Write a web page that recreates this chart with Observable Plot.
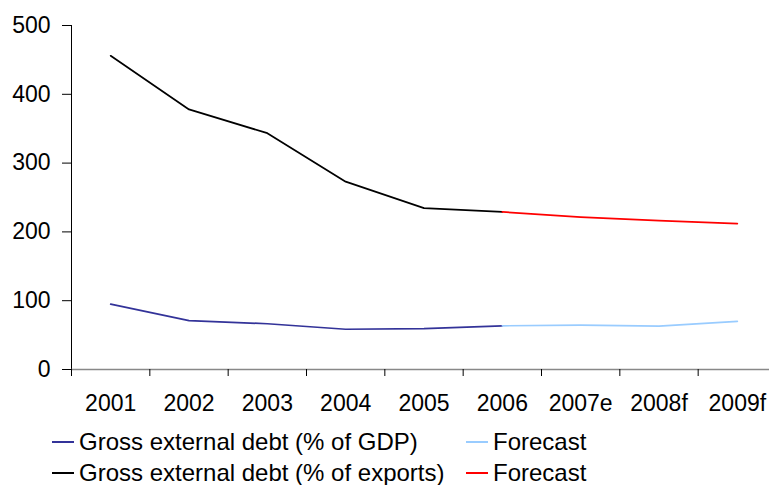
<!DOCTYPE html>
<html>
<head>
<meta charset="utf-8">
<script src="https://cdn.jsdelivr.net/npm/d3@7"></script>
<script src="https://cdn.jsdelivr.net/npm/@observablehq/plot@0.6"></script>
<style>
  html, body { margin: 0; padding: 0; background: #fff; }
  #wrap { position: relative; width: 769px; height: 485px; overflow: hidden; font-family: "Liberation Sans", Arial, sans-serif; }
  .leg { position: absolute; height: 24px; display: flex; align-items: center; white-space: nowrap; }
  .sw { width: 22px; height: 0; border-top: 2px solid; margin-right: 5px; }
  .lt { font-size: 24px; line-height: 24px; color: #000; }
</style>
</head>
<body>
<div id="wrap"></div>
<script>
const years = ["2001","2002","2003","2004","2005","2006","2007e","2008f","2009f"];
const gdpDebt = [95, 71, 66.5, 58.5, 59.5, 63.5, 64.5, 63, 70];
const exportsDebt = [456, 378, 343.5, 273, 234.5, 229, 221.5, 216.5, 212];
const forecastStart = 5; // index of 2006, where forecast segment begins
const yTicks = [0, 100, 200, 300, 400, 500];

const colors = {gdp: "#333399", gdpF: "#99ccff", exp: "#000000", expF: "#ff0000"};

const idx = years.map((d, i) => i);
const hist = idx.filter(i => i <= forecastStart);
const fore = idx.filter(i => i >= forecastStart);
const boundaries = d3.range(-0.5, years.length, 1);

const chart = Plot.plot({
  width: 769,
  height: 420,
  marginLeft: 71,
  marginTop: 25,
  marginBottom: 51,
  marginRight: 0,
  style: {fontFamily: "'Liberation Sans', Arial, sans-serif", fontSize: "23px", color: "#000", background: "#fff"},
  x: {type: "linear", domain: [-0.5, years.length - 0.5], range: [71, 776], axis: null},
  y: {domain: [0, 500], axis: null},
  marks: [
    Plot.axisY({ticks: yTicks, tickSize: 9, tickPadding: 12, tickFormat: d => String(d), stroke: "#000"}),
    Plot.ruleX([-0.5], {stroke: "#000", strokeWidth: 1}),
    Plot.ruleY([0], {stroke: "#888", strokeWidth: 1.5}),
    Plot.axisX({ticks: boundaries, tickSize: 7, tickFormat: () => "", stroke: "#000"}),
    Plot.axisX({ticks: idx, tickSize: 0, tickPadding: 25, tickFormat: i => years[i]}),
    Plot.line(hist, {x: i => i, y: i => gdpDebt[i], stroke: colors.gdp, strokeWidth: 1.7}),
    Plot.line(fore, {x: i => i, y: i => gdpDebt[i], stroke: colors.gdpF, strokeWidth: 1.7}),
    Plot.line(hist, {x: i => i, y: i => exportsDebt[i], stroke: colors.exp, strokeWidth: 1.7}),
    Plot.line(fore, {x: i => i, y: i => exportsDebt[i], stroke: colors.expF, strokeWidth: 1.7})
  ]
});
chart.style.position = "absolute";
chart.style.left = "0";
chart.style.top = "0";
chart.style.overflow = "visible";
const wrap = document.getElementById("wrap");
wrap.appendChild(chart);

const legendItems = [
  {label: "Gross external debt (% of GDP)", color: colors.gdp, left: 52, top: 430},
  {label: "Forecast", color: colors.gdpF, left: 466, top: 430},
  {label: "Gross external debt (% of exports)", color: colors.exp, left: 52, top: 461},
  {label: "Forecast", color: colors.expF, left: 466, top: 461}
];
legendItems.forEach(it => {
  const d = document.createElement("div");
  d.className = "leg";
  d.style.left = it.left + "px";
  d.style.top = it.top + "px";
  const sw = document.createElement("span");
  sw.className = "sw";
  sw.style.borderTopColor = it.color;
  const lt = document.createElement("span");
  lt.className = "lt";
  lt.textContent = it.label;
  d.appendChild(sw);
  d.appendChild(lt);
  wrap.appendChild(d);
});
</script>
</body>
</html>
